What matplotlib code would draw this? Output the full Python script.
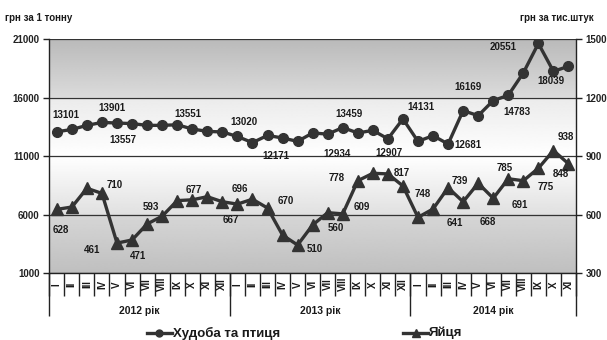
import numpy as np
import matplotlib
matplotlib.use("Agg")
import matplotlib.pyplot as plt
from matplotlib import transforms
from matplotlib.lines import Line2D

plt.rcParams['font.family'] = ['Liberation Sans', 'DejaVu Sans']

# --- data ---
months = ['I', 'II', 'III', 'IV', 'V', 'VI', 'VII', 'VIII', 'IX', 'X', 'XI', 'XII'] * 2 + \
         ['I', 'II', 'III', 'IV', 'V', 'VI', 'VII', 'VIII', 'IX', 'X', 'XI']
years = ['2012 рік', '2013 рік', '2014 рік']
year_centers = [5.5, 17.5, 29]
year_bounds = [-0.5, 11.5, 23.5, 34.5]

cattle = [13101, 13300, 13650, 13901, 13850, 13800, 13650, 13650, 13700, 13340, 13135, 13085,
          12700, 12171, 12790, 12570, 12280, 13000, 12900, 13459, 13000, 13220, 12500, 14200,
          12280, 12770, 12055, 14909, 14480, 15770, 16220, 18140, 20650, 18270, 18700]
eggs = [628, 640, 736, 710, 455, 471, 553, 593, 673, 677, 693, 667,
        655, 680, 635, 496, 445, 548, 611, 605, 775, 813, 810, 748,
        587, 630, 739, 667, 762, 685, 785, 775, 839, 930, 862]

cattle_lbl_idx = [0, 3, 5, 8, 12, 13, 18, 19, 22, 23, 26, 27, 30, 32, 33]
cattle_lbl_txt = ['13101', '13901', '13557', '13551', '13020', '12171', '12934', '13459',
                  '12907', '14131', '12681', '16169', '14783', '20551', '18039']
eggs_lbl_idx = [0, 4, 3, 5, 7, 9, 12, 13, 14, 16, 18, 20, 19, 22, 23, 26, 27, 29, 30, 31, 32, 33, 34]
eggs_lbl_txt = ['628', '461', '710', '471', '593', '677', '667', '696', '670', '510', '560', '778',
                '609', '817', '748', '739', '641', '668', '785', '691', '775', '938', '848']

# label offsets in pixels (layout only)
cattle_off = [(9, 17), (10, 14), (-9, -16), (11, 11), (7, 14), (23, -13), (9, -20), (6, 14),
              (1, -14), (18, 12), (20, -1), (5, 24), (9, -17), (-35, -4), (-2, -10)]
eggs_off = [(4, -21), (-25, -7), (13, 8), (6, -16), (-11, 9), (1, 10), (-7, -16), (-13, 10),
            (18, 7), (17, -4), (8, -15), (-21, 3), (19, 7), (14, 1), (20, -8), (12, 7),
            (-8, -21), (-5, -24), (-4, 11), (-4, -24), (7, -19), (12, 14), (-8, -10)]

W, H = 607, 340
fig = plt.figure(figsize=(W / 100, H / 100), dpi=100)
fig.patch.set_facecolor('white')
x0, x1, ytop, ybot = 49.3, 576.0, 39.4, 273.3
ax = fig.add_axes([x0 / W, 1 - ybot / H, (x1 - x0) / W, (ybot - ytop) / H])

x = np.arange(len(cattle))
lc = '#333333'

# background gradient
lev = np.linspace(1000, 21000, 400)
shade = np.interp(lev, [1000, 6000, 6001, 11000, 16000, 16001, 21000],
                  [0.75, 0.84, 0.88, 1.0, 0.92, 0.86, 0.73])
ax.imshow(shade.reshape(-1, 1), extent=(-0.5, 34.5, 1000, 21000), aspect='auto',
          cmap='gray', vmin=0, vmax=1, origin='lower', zorder=0, interpolation='bilinear')

ax.set_xlim(-0.5, 34.5)
ax.set_ylim(1000, 21000)
ax.set_yticks([1000, 6000, 11000, 16000, 21000])
ax.yaxis.grid(True, color='#333333', lw=0.9, zorder=1)
ax.set_xticks([])
ax.tick_params(axis='y', length=4, width=1, colors='#222222', labelsize=7, pad=3)
for t in ax.get_yticklabels():
    t.set_fontweight('bold')
for s in ['left', 'bottom']:
    ax.spines[s].set_color('#222222')
    ax.spines[s].set_linewidth(1)
ax.spines['top'].set_visible(False)
ax.spines['right'].set_visible(False)

ax2 = ax.twinx()
ax2.set_ylim(300, 1500)
ax2.set_yticks([300, 600, 900, 1200, 1500])
ax2.tick_params(axis='y', length=4, width=1, colors='#222222', labelsize=7, pad=3)
for t in ax2.get_yticklabels():
    t.set_fontweight('bold')
for s in ['left', 'top', 'bottom']:
    ax2.spines[s].set_visible(False)
ax2.spines['right'].set_color('#222222')
ax2.spines['right'].set_linewidth(1)

ax.plot(x, cattle, color=lc, lw=2.4, marker='o', ms=7, zorder=3)
ax2.plot(x, eggs, color=lc, lw=2.4, marker='^', ms=8, zorder=3)

lbl = dict(ha='center', va='center', fontsize=7, fontweight='bold', color='#1a1a1a',
           textcoords='offset pixels')
for i, t, (dx, dy) in zip(cattle_lbl_idx, cattle_lbl_txt, cattle_off):
    ax.annotate(t, (i, cattle[i]), xytext=(dx, dy), **lbl)
for i, t, (dx, dy) in zip(eggs_lbl_idx, eggs_lbl_txt, eggs_off):
    ax2.annotate(t, (i, eggs[i]), xytext=(dx, dy), **lbl)

# category axis below the plot
axh = ybot - ytop
tr = transforms.blended_transform_factory(ax.transData, ax.transAxes)
bounds = np.arange(-0.5, 35, 1)
ax.vlines(bounds, -23 / axh, 0, color='#222222', lw=1, transform=tr, clip_on=False)
ax.vlines(year_bounds, -43 / axh, 0, color='#222222', lw=1, transform=tr, clip_on=False)
for i, m in enumerate(months):
    ax.text(i, -11 / axh, m, rotation=90, ha='center', va='center', fontsize=7,
            fontweight='bold', color='#1a1a1a', transform=tr)
for c, yl in zip(year_centers, years):
    ax.text(c, -38 / axh, yl, ha='center', va='center', fontsize=7.5,
            fontweight='bold', color='#1a1a1a', transform=tr)

# unit captions
fig.text(5 / W, 1 - 18 / H, 'грн за 1 тонну', ha='left', va='center', fontsize=7,
         fontweight='bold', color='#1a1a1a')
fig.text(594 / W, 1 - 18 / H, 'грн за тис.штук', ha='right', va='center', fontsize=7,
         fontweight='bold', color='#1a1a1a')

# legend
ly = 1 - 333 / H
for (a, b), mk, ms, name in [((146.7, 171.7), 'o', 5, 'Худоба та птиця'),
                             ((403.3, 428.3), '^', 6, 'Яйця')]:
    fig.add_artist(Line2D([a / W, b / W], [ly, ly], color=lc, lw=2.4, transform=fig.transFigure))
    fig.add_artist(Line2D([(a + b) / 2 / W], [ly], color=lc, marker=mk, ms=ms,
                          transform=fig.transFigure))
    fig.text((b + 1) / W, ly, name, ha='left', va='center', fontsize=9.5,
             fontweight='bold', color='#1a1a1a')

fig.savefig('out.png', dpi=100)
